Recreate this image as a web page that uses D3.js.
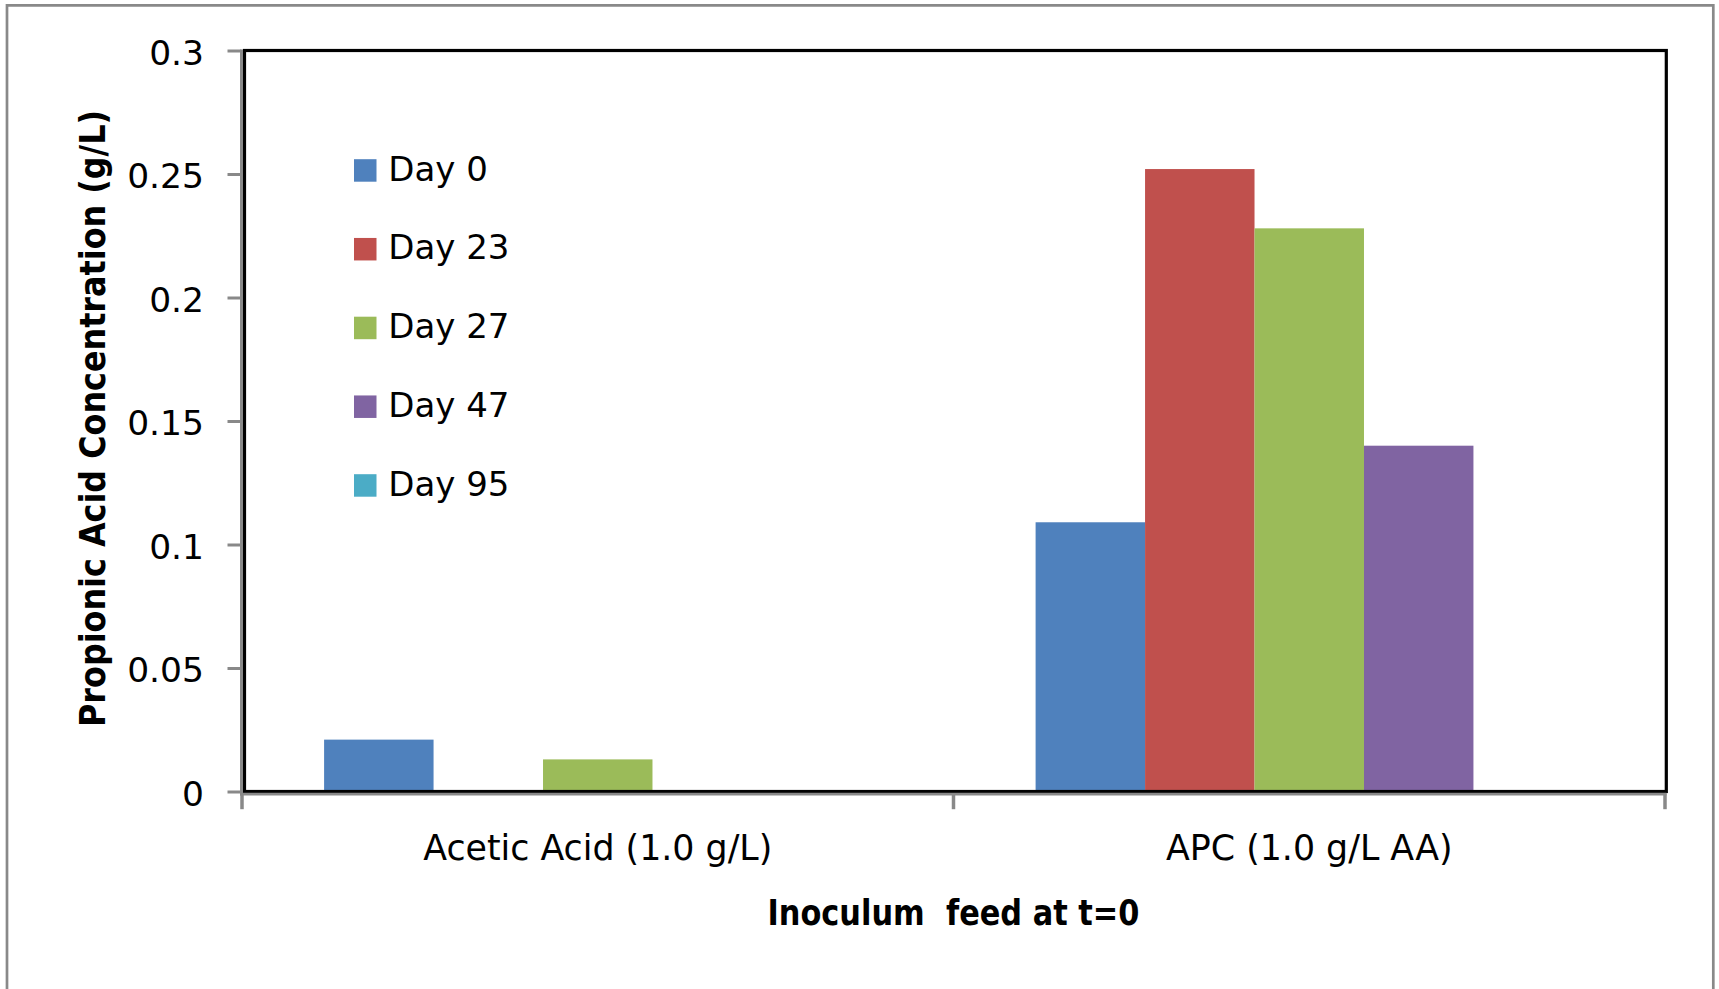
<!DOCTYPE html>
<html>
<head>
<meta charset="utf-8">
<script src="https://cdn.jsdelivr.net/npm/d3@7"></script>
<style>
  html, body { margin: 0; padding: 0; background: #fff; }
  svg { display: block; }
  text { font-family: "DejaVu Sans", sans-serif; fill: #000; }
</style>
</head>
<body>
<svg id="chart" width="1719" height="989"></svg>
<script>
// Propionic acid concentration by inoculum feed and sampling day
const categories = ["Acetic Acid (1.0 g/L)", "APC (1.0 g/L AA)"];
const seriesNames = ["Day 0", "Day 23", "Day 27", "Day 47", "Day 95"];
const day0  = [0.021, 0.109];
const day23 = [0, 0.252];
const day27 = [0.013, 0.228];
const day47 = [0, 0.140];
const day95 = [0, 0];
const seriesValues = [day0, day23, day27, day47, day95];
const seriesColors = ["#4F81BD", "#C0504D", "#9BBB59", "#8064A2", "#4BACC6"];
const yTicks = [0, 0.05, 0.1, 0.15, 0.2, 0.25, 0.3];
const yTitle = "Propionic Acid Concentration (g/L)";
const xTitle = "Inoculum  feed at t=0";

const svg = d3.select("#chart");

// outer chart border (open at the bottom)
svg.append("path")
  .attr("d", "M7,989 V5.3 H1713.3 V989")
  .attr("fill", "none")
  .attr("stroke", "#898989")
  .attr("stroke-width", 2.7);

const plot = { left: 242, right: 1665, top: 50.5, bottom: 791.5 };

const y = d3.scaleLinear().domain([0, 0.3]).range([plot.bottom, plot.top]);
const x = d3.scaleBand().domain(categories).range([plot.left, plot.right]).padding(0);

// clustered bars: 150% gap width between groups
const gap = x.bandwidth() * 1.5 / (seriesNames.length + 1.5);
const x1 = d3.scaleBand().domain(seriesNames).range([gap / 2, x.bandwidth() - gap / 2]).padding(0);

const rows = [];
seriesNames.forEach((s, si) => {
  categories.forEach((c, ci) => {
    rows.push({ series: s, category: c, value: seriesValues[si][ci], color: seriesColors[si] });
  });
});

svg.append("g").selectAll("rect")
  .data(rows.filter(d => d.value > 0))
  .join("rect")
  .attr("x", d => x(d.category) + x1(d.series))
  .attr("y", d => y(d.value))
  .attr("width", x1.bandwidth())
  .attr("height", d => y(0) - y(d.value))
  .attr("fill", d => d.color);

// plot area frame
svg.append("rect")
  .attr("x", plot.left + 2.5)
  .attr("y", plot.top)
  .attr("width", plot.right - plot.left - 1.2)
  .attr("height", plot.bottom - plot.top)
  .attr("fill", "none")
  .attr("stroke", "#000")
  .attr("stroke-width", 3.2);

// value axis
const yAxis = svg.append("g")
  .attr("transform", `translate(${plot.left - 0.5},0)`)
  .call(d3.axisLeft(y).tickValues(yTicks).tickFormat(d => d3.format("")(+d.toFixed(2)))
    .tickSizeInner(14).tickSizeOuter(0).tickPadding(23.5));
yAxis.select(".domain").attr("stroke", "#898989").attr("stroke-width", 3)
  .attr("d", `M0,${plot.top - 1}V${plot.bottom + 4}`);
yAxis.selectAll(".tick line").attr("stroke", "#898989").attr("stroke-width", 3);
yAxis.selectAll(".tick text")
  .attr("font-family", "DejaVu Sans")
  .attr("font-size", 34.5)
  .attr("dy", "0.40em")
  .attr("fill", "#000");

// category axis (tick marks between categories)
const xAxisY = plot.bottom + 2.7;
const xAxis = svg.append("g").attr("transform", `translate(0,${xAxisY})`);
xAxis.append("line")
  .attr("x1", plot.left - 1.5).attr("x2", plot.right + 1.5)
  .attr("stroke", "#898989").attr("stroke-width", 2.7);
const boundaries = categories.map(c => x(c)).concat([x.range()[1]]);
xAxis.selectAll("line.tick")
  .data(boundaries)
  .join("line")
  .attr("class", "tick")
  .attr("x1", d => d).attr("x2", d => d)
  .attr("y1", -1).attr("y2", 15)
  .attr("stroke", "#898989").attr("stroke-width", 3.5);
xAxis.selectAll("text")
  .data(categories)
  .join("text")
  .attr("x", d => x(d) + x.bandwidth() / 2)
  .attr("y", 860 - xAxisY)
  .attr("text-anchor", "middle")
  .attr("font-size", 34.8)
  .text(d => d);

// axis titles
svg.append("text")
  .attr("x", (plot.left + plot.right) / 2)
  .attr("y", 925)
  .attr("text-anchor", "middle")
  .attr("font-size", 35)
  .attr("font-weight", "bold")
  .attr("textLength", 372)
  .attr("lengthAdjust", "spacingAndGlyphs")
  .style("white-space", "pre")
  .text(xTitle);

svg.append("text")
  .attr("transform", "translate(105,418.5) rotate(-90)")
  .attr("text-anchor", "middle")
  .attr("font-size", 35)
  .attr("font-weight", "bold")
  .attr("textLength", 617)
  .attr("lengthAdjust", "spacingAndGlyphs")
  .text(yTitle);

// legend
const legendY = d3.scalePoint().domain(seriesNames).range([170.5, 485.5]);
const legend = svg.append("g").selectAll("g")
  .data(seriesNames)
  .join("g")
  .attr("transform", d => `translate(354,${legendY(d)})`);
legend.append("rect")
  .attr("x", 0).attr("y", -11.3)
  .attr("width", 22.5).attr("height", 22.5)
  .attr("fill", (d, i) => seriesColors[i]);
legend.append("text")
  .attr("x", 34.3)
  .attr("y", 10.2)
  .attr("font-size", 34)
  .text(d => d);
</script>
</body>
</html>
